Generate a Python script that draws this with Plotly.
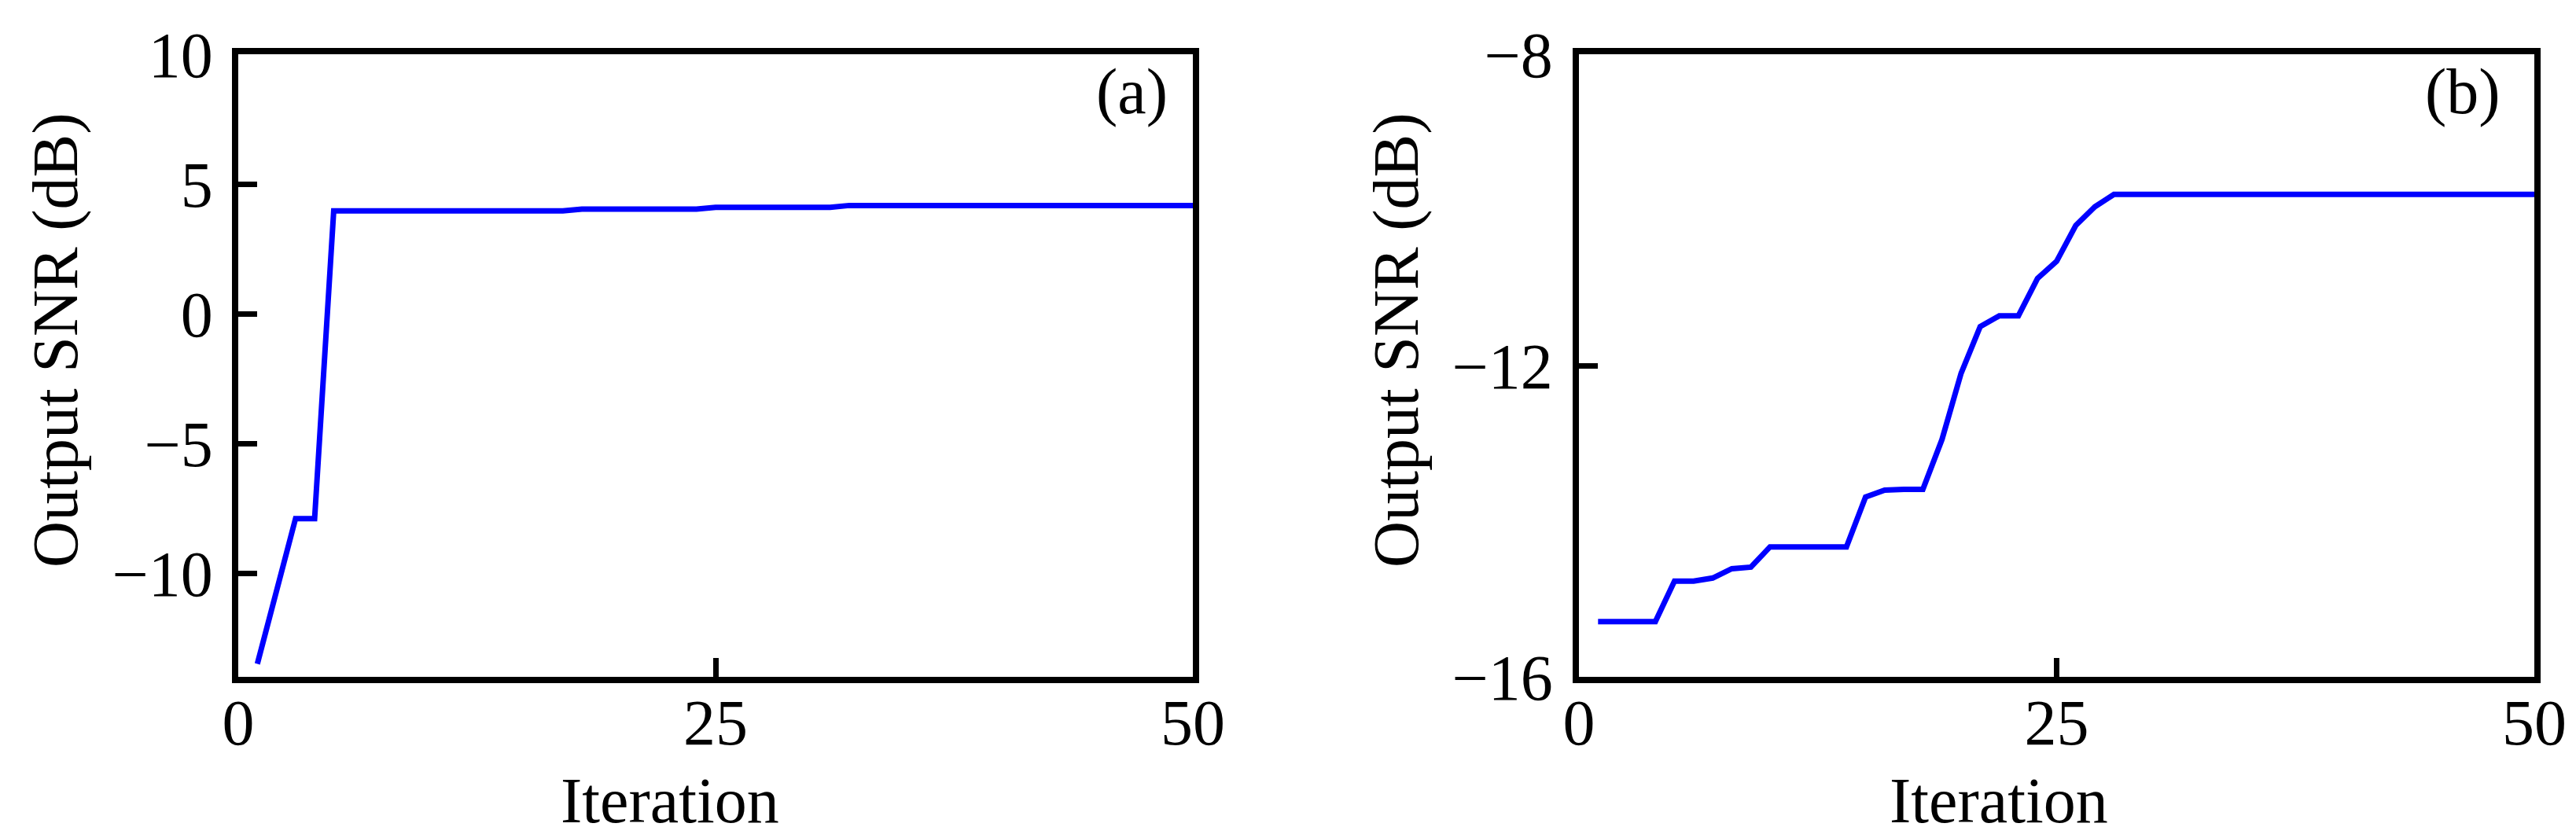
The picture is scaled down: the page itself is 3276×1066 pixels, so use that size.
import plotly.graph_objects as go

# iterations shared by both panels
iteration = list(range(1, 51))

# panel (a) output SNR in dB
snr_a = ([-13.5, -10.7, -7.9, -7.9] + [3.96] * 13 + [4.03] * 7
         + [4.10] * 7 + [4.17] * 19)

# panel (b) output SNR in dB
snr_b = ([-15.29, -15.29, -15.29, -15.29, -14.77, -14.77, -14.73, -14.61,
          -14.59, -14.33, -14.33, -14.33, -14.33, -14.33, -13.69, -13.60,
          -13.59, -13.59, -12.95, -12.10, -11.50, -11.36, -11.36, -10.88,
          -10.66, -10.20, -9.96, -9.80] + [-9.80] * 22)

xticks = [0, 25, 50]
yticks_a = [-10, -5, 0, 5, 10]
yticks_b = [-16, -12, -8]

W, H = 3276, 1066
font = "Liberation Serif"
fs = 82
blue = "#0000FF"

fig = go.Figure()
fig.add_trace(go.Scatter(x=iteration, y=snr_a, mode="lines",
                         line=dict(color=blue, width=7), xaxis="x", yaxis="y"))
fig.add_trace(go.Scatter(x=iteration, y=snr_b, mode="lines",
                         line=dict(color=blue, width=7), xaxis="x2", yaxis="y2"))

ydom = [213 / H, 1005 / H]
axis_common = dict(
    showline=True, linecolor="black", linewidth=7.5, mirror=True,
    ticks="inside", ticklen=24, tickwidth=7, tickcolor="black",
    showgrid=False, zeroline=False, automargin=False,
    tickfont=dict(family=font, size=fs, color="black"),
)

fig.update_layout(
    template="none",
    width=W, height=H,
    margin=dict(l=0, r=0, t=0, b=0),
    paper_bgcolor="white", plot_bgcolor="white",
    showlegend=False,
    xaxis=dict(domain=[295 / W, 1509 / W], range=[0, 50], tickvals=xticks,
               anchor="y", ticklabelstandoff=-20, **axis_common),
    yaxis=dict(domain=ydom, range=[-14, 10], tickvals=yticks_a,
               anchor="x", ticklabelstandoff=8, **axis_common),
    xaxis2=dict(domain=[2000 / W, 3215 / W], range=[0, 50], tickvals=xticks,
                anchor="y2", ticklabelstandoff=-20, **axis_common),
    yaxis2=dict(domain=ydom, range=[-16, -8], tickvals=yticks_b,
                anchor="x2", ticklabelstandoff=9, **axis_common),
)

tfont = dict(family=font, size=fs, color="black")
notes = [
    # axis titles
    dict(x=844 / W, y=(H - 1010) / H, text="Iteration"),
    dict(x=2534 / W, y=(H - 1010) / H, text="Iteration"),
    dict(x=62 / W, y=(H - 425) / H, text="Output SNR (dB)", textangle=-90),
    dict(x=1767 / W, y=(H - 425) / H, text="Output SNR (dB)", textangle=-90),
]
for n in notes:
    fig.add_annotation(xref="paper", yref="paper", showarrow=False,
                       xanchor="center", yanchor="middle", font=tfont, **n)

# panel letters
fig.add_annotation(xref="x domain", yref="y domain", x=0.975, y=0.94,
                   text="(a)", showarrow=False, xanchor="right",
                   yanchor="middle", font=tfont)
fig.add_annotation(xref="x2 domain", yref="y2 domain", x=0.966, y=0.94,
                   text="(b)", showarrow=False, xanchor="right",
                   yanchor="middle", font=tfont)

fig.write_html("out.html")
